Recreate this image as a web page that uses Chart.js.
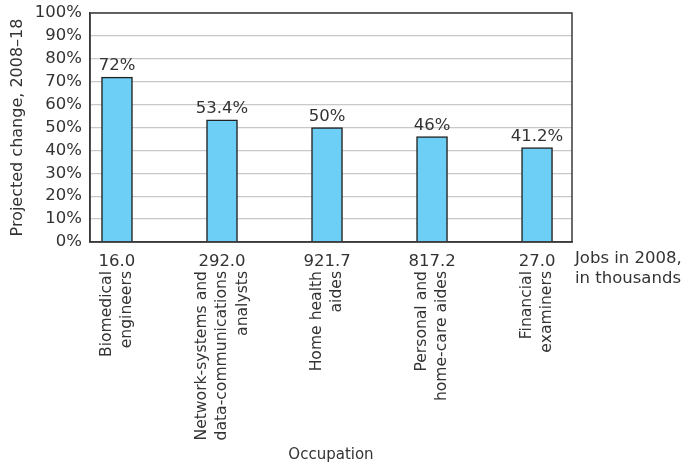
<!DOCTYPE html>
<html>
<head>
<meta charset="utf-8">
<script src="https://cdn.jsdelivr.net/npm/chart.js@4/dist/chart.umd.min.js"></script>
<style>
  html, body { margin: 0; padding: 0; background: #fff; }
  #wrap { width: 685px; height: 468px; position: relative; }
</style>
</head>
<body>
<div id="wrap"><canvas id="c" width="685" height="468"></canvas></div>
<script>
// Occupations (one entry per line of the rotated label)
const occupations = [
  ['Biomedical', 'engineers'],
  ['Network-systems and', 'data-communications', 'analysts'],
  ['Home health', 'aides'],
  ['Personal and', 'home-care aides'],
  ['Financial', 'examiners']
];
// Projected change 2008–18, percent
const projectedChange = [72, 53.4, 50, 46, 41.2];
// Jobs in 2008, thousands
const jobs2008 = ['16.0', '292.0', '921.7', '817.2', '27.0'];
// Y tick values
const yTicks = [0, 10, 20, 30, 40, 50, 60, 70, 80, 90, 100];

const FONT = 'DejaVu Sans';
const SIZE = 16.5;
const TEXT = '#333333';

const overlay = {
  id: 'overlay',
  afterDatasetsDraw(chart) {
    const { ctx, chartArea, scales } = chart;
    const xs = scales.x, ys = scales.y;
    ctx.save();
    // frame around the plot
    ctx.strokeStyle = '#3a3a3a';
    ctx.lineWidth = 1.5;
    ctx.strokeRect(chartArea.left, chartArea.top, chartArea.right - chartArea.left, chartArea.bottom - chartArea.top);

    ctx.fillStyle = TEXT;
    ctx.font = SIZE + 'px "' + FONT + '"';
    // value labels above bars
    ctx.textAlign = 'center';
    ctx.textBaseline = 'alphabetic';
    projectedChange.forEach((v, i) => {
      ctx.fillText(v + '%', xs.getPixelForValue(i), ys.getPixelForValue(v) - 7);
    });

    // note for the jobs row
    ctx.textAlign = 'left';
    ctx.textBaseline = 'middle';
    ctx.fillText('Jobs in 2008,', chartArea.right + 3, 259);
    ctx.fillText('in thousands', chartArea.right + 3, 279);

    // rotated occupation names
    ctx.font = '15.6px "' + FONT + '"';
    occupations.forEach((lines, i) => {
      const cx = xs.getPixelForValue(i);
      ctx.save();
      ctx.translate(cx, 271);
      ctx.rotate(-Math.PI / 2);
      ctx.textAlign = 'right';
      ctx.textBaseline = 'middle';
      lines.forEach((ln, j) => {
        ctx.fillText(ln, 0, (j - (lines.length - 1) / 2) * 20.5);
      });
      ctx.restore();
    });
    ctx.restore();
  }
};

new Chart(document.getElementById('c'), {
  type: 'bar',
  data: {
    datasets: [{
      data: projectedChange.map((v, i) => ({ x: i, y: v })),
      backgroundColor: '#6dcff6',
      borderColor: '#222222',
      borderWidth: 1.5,
      barThickness: 31
    }]
  },
  options: {
    responsive: false,
    animation: false,
    events: [],
    layout: { padding: { left: 0, right: 113, top: 13, bottom: 0 } },
    plugins: {
      legend: { display: false },
      tooltip: { enabled: false }
    },
    scales: {
      x: {
        type: 'linear',
        offset: false,
        min: -0.257,
        max: 4.333,
        afterBuildTicks(scale) { scale.ticks = [0, 1, 2, 3, 4].map(v => ({ value: v })); },
        afterFit(scale) { scale.height = 468 - 242; scale.paddingLeft = 0; scale.paddingRight = 0; },
        grid: { display: false, drawTicks: false },
        border: { display: true, color: '#3a3a3a', width: 1.5 },
        ticks: {
          autoSkip: false,
          maxRotation: 0,
          padding: 10,
          color: TEXT,
          font: { family: FONT, size: SIZE },
          callback: (v) => jobs2008[v]
        },
        title: {
          display: true,
          text: 'Occupation',
          color: TEXT,
          font: { family: FONT, size: 15 },
          padding: { top: 0, bottom: 4 }
        }
      },
      y: {
        min: 0,
        max: 100,
        afterBuildTicks(scale) { scale.ticks = yTicks.map(v => ({ value: v })); },
        afterFit(scale) { scale.width = 90; scale.paddingTop = 0; scale.paddingBottom = 0; },
        grid: { color: '#c8c8c8', lineWidth: 1.3, drawTicks: false },
        border: { display: true, color: '#3a3a3a', width: 1.5 },
        ticks: {
          padding: 8,
          color: TEXT,
          font: { family: FONT, size: SIZE },
          callback: (v) => v + '%'
        },
        title: {
          display: true,
          text: 'Projected change, 2008–18',
          color: TEXT,
          font: { family: FONT, size: 16 },
          padding: { top: 8, bottom: 0 }
        }
      }
    }
  },
  plugins: [overlay]
});
</script>
</body>
</html>
